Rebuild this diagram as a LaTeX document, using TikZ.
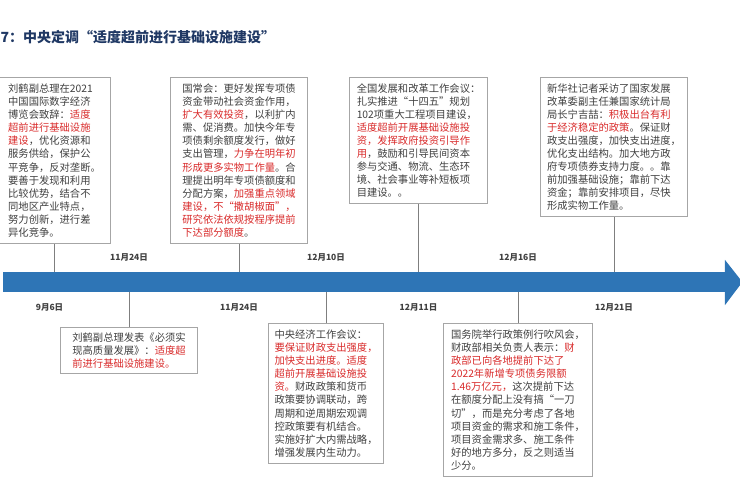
\documentclass[tikz,border=0pt]{standalone}
\usepackage{fontspec}
\setmainfont{Noto Sans CJK SC}
\usepackage{xcolor}
\usepackage{tikz}
\usetikzlibrary{positioning, calc}

\definecolor{axisblue}{HTML}{2E75B6}
\definecolor{titlenavy}{HTML}{1F3864}
\definecolor{txtgray}{HTML}{404040}
\definecolor{hlred}{HTML}{D92B2B}
\definecolor{framegray}{HTML}{A6A6A6}
\definecolor{stemgray}{HTML}{7F7F7F}
\newcommand{\hl}[1]{\textcolor{hlred}{#1}}

\begin{document}
\begin{tikzpicture}[x=1pt, y=-1pt]
\tikzstyle{note} = [rectangle, draw=framegray, line width=1.1pt, fill=white, align=left, inner sep=0pt, anchor=north west, text=txtgray, font=\fontsize{10.3}{13.1}\selectfont]
\tikzstyle{datelbl} = [text=txtgray, font=\fontsize{8.5}{10}\selectfont\bfseries, inner sep=0pt]
\tikzstyle{stem} = [draw=stemgray, line width=1pt]

\useasboundingbox (0,0) rectangle (740,488);

% Title
\node (title) [anchor=west, text=titlenavy, font=\fontsize{14}{16}\selectfont\bfseries, inner sep=0pt] at (0.5,37) {7：中央定调“适度超前进行基础设施建设”};

% Time axis
\node (axis) [rectangle, fill=axisblue, minimum width=722, minimum height=20, inner sep=0pt, anchor=west] at (3,282) {};
\fill[axisblue] ([xshift=-0.5pt, yshift=12pt]axis.north east) -- ([xshift=17pt]axis.east) -- ([xshift=-0.5pt, yshift=-13pt]axis.south east) -- cycle;

% Upper notes
\node (n1) [note, minimum width=112, minimum height=166] at (-2,77) {刘鹤副总理在2021\\中国国际数字经济\\博览会致辞：\hl{适度}\\\hl{超前进行基础设施}\\\hl{建设}，优化资源和\\服务供给，保护公\\平竞争，反对垄断。\\要善于发现和利用\\比较优势，结合不\\同地区产业特点，\\努力创新，进行差\\异化竞争。};
\node (n2) [note, minimum width=137, minimum height=166] at (170,77) {国常会：更好发挥专项债\\资金带动社会资金作用，\\\hl{扩大有效投资}，以利扩内\\需、促消费。加快今年专\\项债剩余额度发行，做好\\支出管理，\hl{力争在明年初}\\\hl{形成更多实物工作量}。合\\理提出明年专项债额度和\\分配方案，\hl{加强重点领域}\\\hl{建设，不“撒胡椒面”，}\\\hl{研究依法依规按程序提前}\\\hl{下达部分额度}。};
\node (n3) [note, minimum width=138, minimum height=126] at (349,77) {全国发展和改革工作会议：\\扎实推进“十四五”规划\\102项重大工程项目建设，\\\hl{适度超前开展基础设施投}\\\hl{资，发挥政府投资引导作}\\\hl{用}，鼓励和引导民间资本\\参与交通、物流、生态环\\境、社会事业等补短板项\\目建设。。};
\node (n4) [note, minimum width=147, minimum height=139] at (540,77) {新华社记者采访了国家发展\\改革委副主任兼国家统计局\\局长宁吉喆：\hl{积极出台有利}\\\hl{于经济稳定的政策}。保证财\\政支出强度，加快支出进度，\\优化支出结构。加大地方政\\府专项债券支持力度。。靠\\前加强基础设施；靠前下达\\资金；靠前安排项目，尽快\\形成实物工作量。};

% Lower notes
\node (n5) [note, minimum width=137, minimum height=46] at (60,327) {刘鹤副总理发表《必须实\\现高质量发展》：\hl{适度超}\\\hl{前进行基础设施建设。}};
\node (n6) [note, minimum width=115, minimum height=140] at (268,323) {中央经济工作会议：\\\hl{要保证财政支出强度，}\\\hl{加快支出进度。适度}\\\hl{超前开展基础设施投}\\\hl{资。}财政政策和货币\\政策要协调联动，跨\\周期和逆周期宏观调\\控政策要有机结合。\\实施好扩大内需战略，\\增强发展内生动力。};
\node (n7) [note, minimum width=149, minimum height=153] at (443,323) {国务院举行政策例行吹风会，\\财政部相关负责人表示：\hl{财}\\\hl{政部已向各地提前下达了}\\\hl{2022年新增专项债务限额}\\\hl{1.46万亿元，}这次提前下达\\在额度分配上没有搞“一刀\\切”，而是充分考虑了各地\\项目资金的需求和施工条件，\\项目资金需求多、施工条件\\好的地方多分，反之则适当\\少分。};

% Stems
\draw [stem] (n1.south) -- (n1.south |- axis.north);
\draw [stem] (n2.south) -- (n2.south |- axis.north);
\draw [stem] (n3.south) -- (n3.south |- axis.north);
\draw [stem] (n4.south) -- (n4.south |- axis.north);
\draw [stem] (n5.north) -- (n5.north |- axis.south);
\draw [stem] (n6.north) -- (n6.north |- axis.south);
\draw [stem] (n7.north) -- (n7.north |- axis.south);

% Dates
\node (d1) [datelbl] at ([xshift=-5pt, yshift=-15pt]n1.south |- axis.south) {9月6日};
\node (d2) [datelbl] at ([yshift=-15pt]n2.south |- axis.south) {11月24日};
\node (d3) [datelbl] at ([yshift=-15pt]n3.south |- axis.south) {12月11日};
\node (d4) [datelbl] at ([yshift=-15pt]n4.south |- axis.south) {12月21日};
\node (d5) [datelbl] at ([yshift=14pt]n5.north |- axis.north) {11月24日};
\node (d6) [datelbl] at ([yshift=14pt]n6.north |- axis.north) {12月10日};
\node (d7) [datelbl] at ([yshift=14pt]n7.north |- axis.north) {12月16日};

\end{tikzpicture}
\end{document}
